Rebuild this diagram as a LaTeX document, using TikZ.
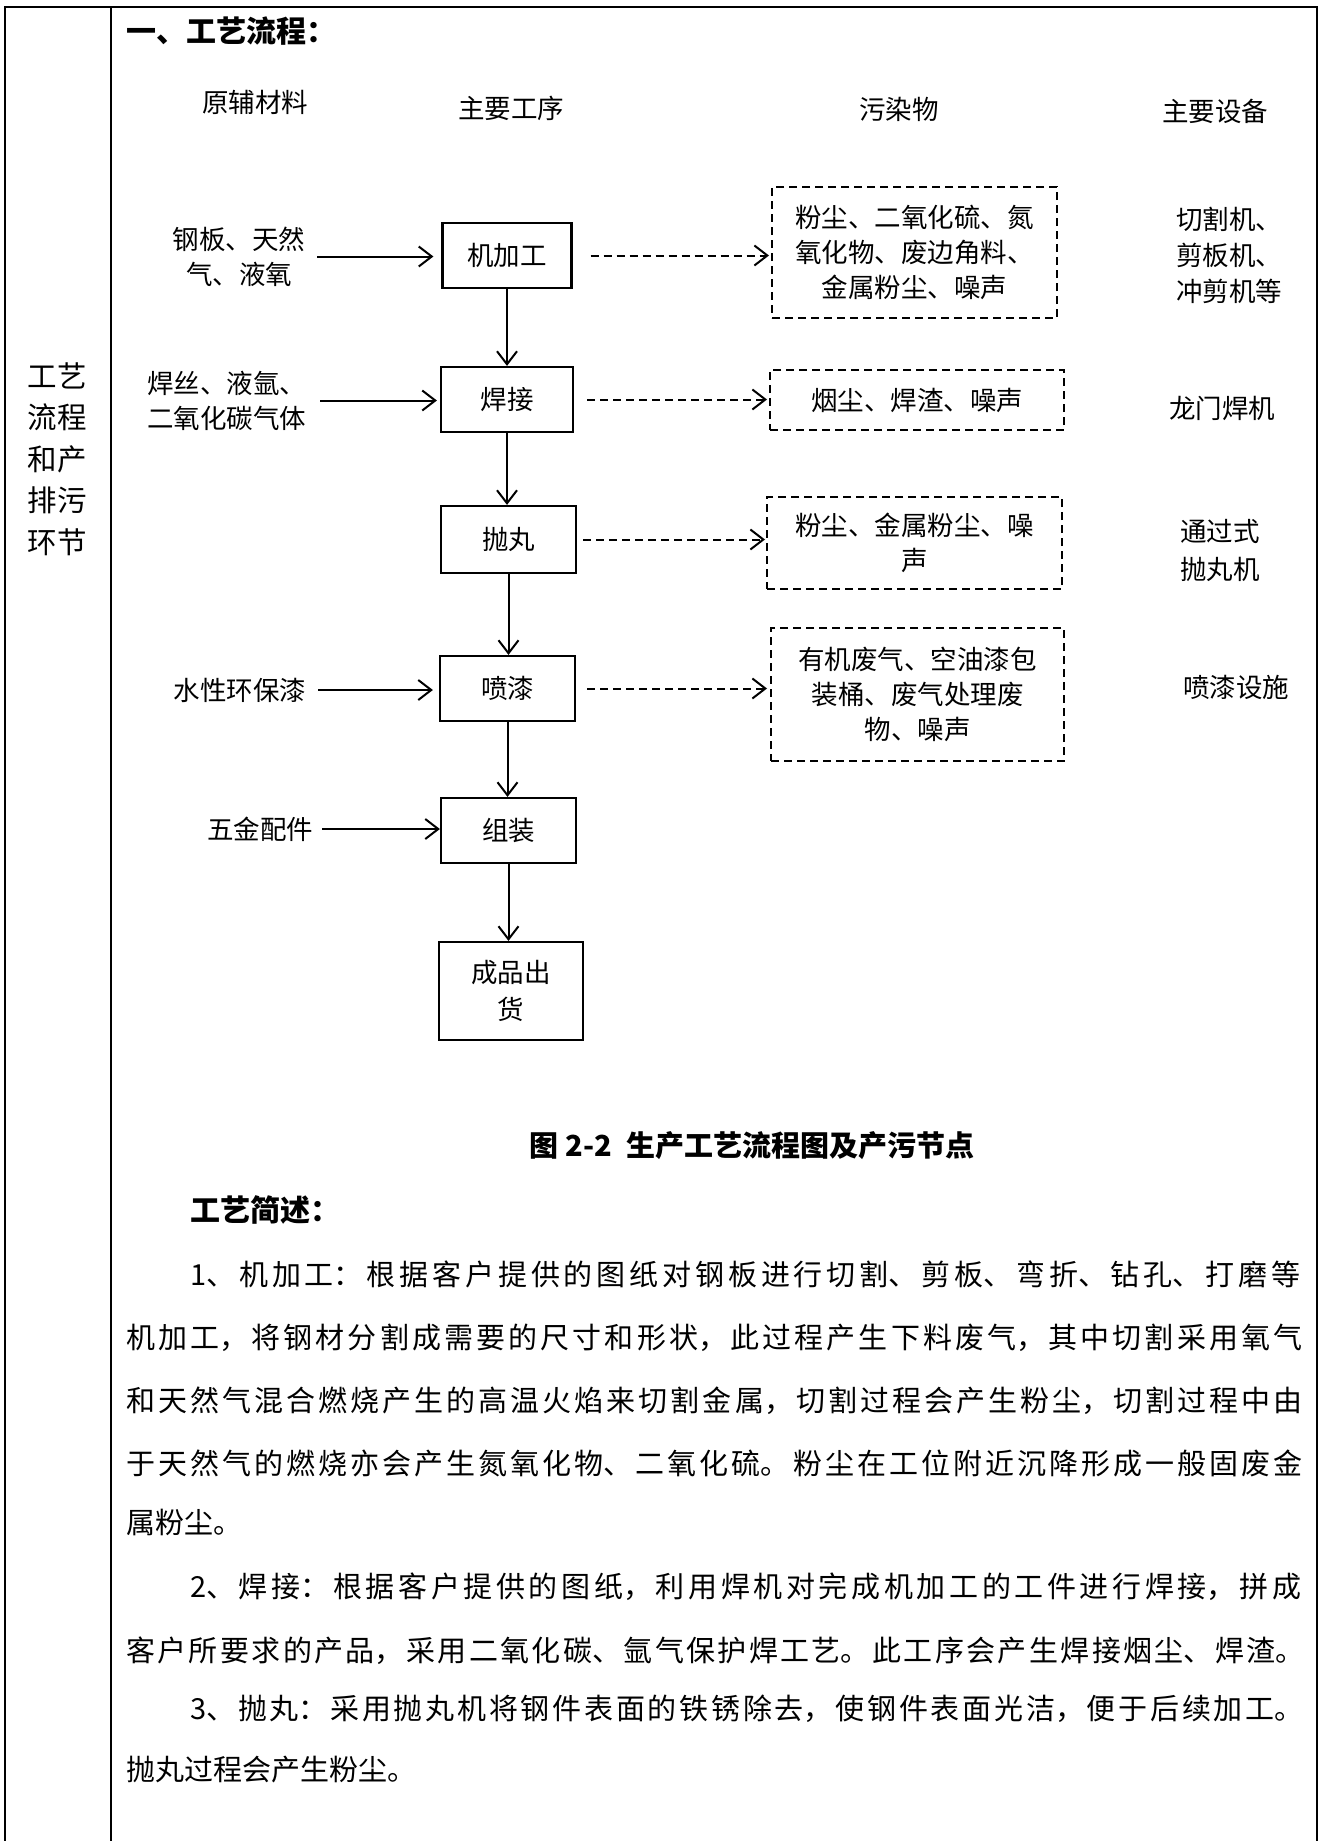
\documentclass[tikz,border=0pt]{standalone}
\usepackage{fontspec}
\setmainfont{Noto Sans CJK SC}
\usetikzlibrary{arrows.meta}
\XeTeXlinebreaklocale "zh"
\XeTeXlinebreakskip=0pt plus 1pt
\newcommand\dfont{\fontsize{26.5pt}{35pt}\selectfont}
\newcommand\bfont{\fontsize{29pt}{40pt}\selectfont}
\newcommand\lfont{\fontsize{29.5pt}{41.5pt}\selectfont}
\newcommand\tfont{\fontsize{30pt}{40pt}\selectfont}
\newcommand\jline[1]{\noindent\tolerance=10000\hbadness=10000\XeTeXlinebreakskip=1.5pt plus 20pt\relax\parfillskip=0pt\relax #1\par}
\newcommand\pline[1]{\XeTeXlinebreakskip=2.5pt\relax #1}
\tikzset{
  proc/.style={draw, line width=2.2pt, inner sep=0pt, font=\dfont, align=center},
  poll/.style={draw, line width=2pt, dash pattern=on 8pt off 5pt, inner sep=0pt, font=\dfont, align=center},
  lbl/.style={inner sep=0pt, font=\dfont, align=center},
  arr/.style={line width=2pt, -{Straight Barb[length=13pt,width=20pt,line width=2pt]}},
  darr/.style={arr, dash pattern=on 8pt off 5pt},
  frame/.style={line width=1.6pt},
  body/.style={anchor=west, inner sep=0pt, font=\bfont},
}
\begin{document}
\begin{tikzpicture}[x=1pt,y=-1pt]
\useasboundingbox (0,0) rectangle (1322,1841);
% table frame
\draw[frame] (5,1841) -- (5,7) -- (1317,7) -- (1317,1841);
\draw[frame] (111,7) -- (111,1841);
\node[inner sep=0pt, font=\lfont, align=center] (lc) at (57,459) {工艺\\流程\\和产\\排污\\环节};
% title
\node[anchor=west, inner sep=0pt, font=\tfont\bfseries] (title) at (126,31) {一、工艺流程：};
% headers
\node[lbl] (h1) at (255,102) {原辅材料};
\node[lbl] (h2) at (511,108) {主要工序};
\node[lbl] (h3) at (899,109) {污染物};
\node[lbl] (h4) at (1215,111) {主要设备};
% process boxes
\node[proc, minimum width=129pt, minimum height=65pt] (p1) at (507,255.5) {机加工};
\node[proc, minimum width=132pt, minimum height=65pt] (p2) at (507,399.5) {焊接};
\node[proc, minimum width=135pt, minimum height=67pt] (p3) at (508.5,539.5) {抛丸};
\node[proc, minimum width=135pt, minimum height=65pt] (p4) at (507.5,688.5) {喷漆};
\node[proc, minimum width=135pt, minimum height=65pt] (p5) at (508.5,830.5) {组装};
\node[proc, minimum width=144pt, minimum height=98pt, font=\fontsize{26.5pt}{37pt}\selectfont] (p6) at (511,991) {成品出\\货};
% pollutant boxes
\node[poll, minimum width=285pt, minimum height=131pt] (w1) at (914.5,252.5) {粉尘、二氧化硫、氮\\氧化物、废边角料、\\金属粉尘、噪声};
\node[poll, minimum width=294pt, minimum height=60pt] (w2) at (917,400) {烟尘、焊渣、噪声};
\node[poll, minimum width=295pt, minimum height=92pt] (w3) at (914.5,543) {粉尘、金属粉尘、噪\\声};
\node[poll, minimum width=293pt, minimum height=133pt] (w4) at (917.5,694.5) {有机废气、空油漆包\\装桶、废气处理废\\物、噪声};
% materials
\node[lbl] (m1) at (239,256.5) {钢板、天然\\气、液氧};
\node[lbl, align=left] (m2) at (226.5,400.5) {焊丝、液氩、\\二氧化碳气体};
\node[lbl] (m3) at (240,690) {水性环保漆};
\node[lbl] (m4) at (260,829) {五金配件};
% equipment
\node[lbl, align=left, font=\fontsize{26.5pt}{36pt}\selectfont] (e1) at (1229,255) {切割机、\\剪板机、\\冲剪机等};
\node[lbl] (e2) at (1222,408) {龙门焊机};
\node[lbl, font=\fontsize{26.5pt}{38pt}\selectfont] (e3) at (1220,550) {通过式\\抛丸机};
\node[lbl] (e4) at (1236,687) {喷漆设施};
% input arrows
\draw[arr, shorten <=12pt, shorten >=8pt] (m1.east) -- (m1.east -| p1.west);
\draw[arr, shorten <=14pt, shorten >=3pt] (m2.east) -- (m2.east -| p2.west);
\draw[arr, shorten <=12pt, shorten >=6pt] (m3.east) -- (m3.east -| p4.west);
\draw[arr, shorten <=9pt] (m4.east) -- (m4.east -| p5.west);
% main flow
\draw[arr] (p1.south) -- (p1.south |- p2.north);
\draw[arr] (p2.south) -- (p2.south |- p3.north);
\draw[arr] (p3.south) -- (p3.south |- p4.north);
\draw[arr] (p4.south) -- (p4.south |- p5.north);
\draw[arr] (p5.south) -- (p5.south |- p6.north);
% pollutant arrows
\draw[darr, shorten <=18pt, shorten >=2pt] (p1.east) -- (p1.east -| w1.west);
\draw[darr, shorten <=13pt, shorten >=2pt] (p2.east) -- (p2.east -| w2.west);
\draw[darr, shorten <=6pt, shorten >=1pt] (p3.east) -- (p3.east -| w3.west);
\draw[darr, shorten <=11pt, shorten >=3pt] (p4.east) -- (p4.east -| w4.west);
% caption and description
\node[font=\fontsize{29pt}{40pt}\selectfont\bfseries] (cap) at (752,1146) {图 2-2\enspace 生产工艺流程图及产污节点};
\node[anchor=west, inner sep=0pt, font=\tfont\bfseries] (sub) at (190,1210) {工艺简述：};
\node[body, text width=1117pt] (l1) at (190,1274) {\jline{1、机加工：根据客户提供的图纸对钢板进行切割、剪板、弯折、钻孔、打磨等}};
\node[body, text width=1181pt] (l2) at (126,1338) {\jline{机加工，将钢材分割成需要的尺寸和形状，此过程产生下料废气，其中切割采用氧气}};
\node[body, text width=1181pt] (l3) at (126,1401) {\jline{和天然气混合燃烧产生的高温火焰来切割金属，切割过程会产生粉尘，切割过程中由}};
\node[body, text width=1181pt] (l4) at (126,1463) {\jline{于天然气的燃烧亦会产生氮氧化物、二氧化硫。粉尘在工位附近沉降形成一般固废金}};
\node[body] (l5) at (126,1522) {\pline{属粉尘。}};
\node[body, text width=1117pt] (l6) at (190,1587) {\jline{2、焊接：根据客户提供的图纸，利用焊机对完成机加工的工件进行焊接，拼成}};
\node[body, text width=1181pt] (l7) at (126,1651) {\jline{客户所要求的产品，采用二氧化碳、氩气保护焊工艺。此工序会产生焊接烟尘、焊渣。}};
\node[body, text width=1117pt] (l8) at (190,1709) {\jline{3、抛丸：采用抛丸机将钢件表面的铁锈除去，使钢件表面光洁，便于后续加工。}};
\node[body] (l9) at (126,1770) {\pline{抛丸过程会产生粉尘。}};
\end{tikzpicture}
\end{document}
